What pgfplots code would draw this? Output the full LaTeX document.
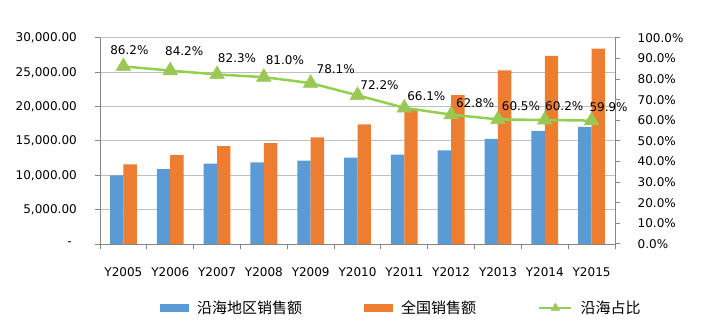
\documentclass[border=0pt]{standalone}
\usepackage{pgfplots}
\usepackage{pgfplotstable}
\pgfplotsset{compat=1.18}
\usepackage{fontspec}
\setmainfont{DejaVu Sans}
\newfontfamily\cjk{Noto Sans CJK SC}
\definecolor{cblue}{RGB}{91,155,213}
\definecolor{corange}{RGB}{237,125,49}
\definecolor{cline}{RGB}{146,208,80}
\definecolor{cmark}{RGB}{155,200,85}
\definecolor{caxis}{RGB}{134,134,134}
\definecolor{cgrid}{RGB}{191,191,191}

\pgfplotstableread{
x coast nation
0 10000 11600
1 10900 12940
2 11720 14240
3 11900 14700
4 12130 15530
5 12570 17410
6 13020 19700
7 13620 21690
8 15310 25300
9 16480 27380
10 17050 28460
}\sales

\pgfplotstableread{
x share dx dy
0 86.2 6 16
1 84.2 14 19
2 82.3 20 16
3 81.0 21 17
4 78.1 25 14
5 72.2 22 10
6 66.1 22 12
7 62.8 24 11
8 60.5 23 13
9 60.2 19.5 14
10 59.9 17 13
}\share

\begin{document}
\begin{tikzpicture}
\path[use as bounding box] (0,0) rectangle (709bp,336bp);
\begin{axis}[
  at={(100bp,92bp)}, anchor=south west,
  scale only axis, width=515bp, height=206bp,
  xmin=-0.5, xmax=10.5, ymin=0, ymax=30000,
  scaled y ticks=false,
  axis x line*=bottom, axis y line*=left,
  axis line style={caxis, line width=1bp},
  ybar=0pt, bar width=13.4bp,
  xtick={0,...,10},
  xticklabels={Y2005,Y2006,Y2007,Y2008,Y2009,Y2010,Y2011,Y2012,Y2013,Y2014,Y2015},
  minor xtick={-0.5,0.5,...,10.5},
  major x tick style={draw=none},
  minor x tick style={caxis, line width=1bp},
  y tick style={caxis, line width=1bp},
  tick align=outside,
  major tick length=5bp, minor tick length=5bp,
  ytick={0,5000,...,30000},
  yticklabels={{-\hspace*{5bp}},{5,000.00},{10,000.00},{15,000.00},{20,000.00},{25,000.00},{30,000.00}},
  ymajorgrids, grid style={cgrid, line width=1bp},
  tick label style={font=\fontsize{12bp}{14bp}\selectfont, text=black},
  xticklabel style={anchor=north, inner sep=0pt, yshift=-18bp},
  yticklabel style={anchor=east, inner sep=0pt, xshift=-18bp},
  legend columns=3,
  legend style={at={(0.1165,-0.3107)}, anchor=west, draw=none, inner sep=0pt,
    font=\cjk\fontsize{15bp}{17bp}\selectfont,
    /tikz/every odd column/.append style={column sep=6bp},
    /tikz/every even column/.append style={column sep=60bp}},
  legend cell align=left,
]
\addplot[fill=cblue, draw=none,
  legend image code/.code={\fill[cblue] (0bp,-3.8bp) rectangle (29bp,3.8bp);}]
  table[x=x, y=coast]{\sales};
\addlegendentry{沿海地区销售额}
\addplot[fill=corange, draw=none,
  legend image code/.code={\fill[corange] (0bp,-3.8bp) rectangle (29bp,3.8bp);}]
  table[x=x, y=nation]{\sales};
\addlegendentry{全国销售额}
\addlegendimage{legend image code/.code={
  \draw[cline, line width=2.5bp] (0bp,0bp) -- (32bp,0bp);
  \path[fill=cmark, draw=cmark] plot[mark=triangle*, mark size=5bp] coordinates {(16bp,0bp)};}}
\addlegendentry{沿海占比}
\end{axis}
\begin{axis}[
  at={(100bp,92bp)}, anchor=south west,
  scale only axis, width=515bp, height=206bp,
  xmin=-0.5, xmax=10.5, ymin=0, ymax=100,
  axis x line=none, axis y line*=right,
  axis line style={caxis, line width=1bp},
  y tick style={caxis, line width=1bp},
  tick align=outside, major tick length=5bp,
  ytick={0,10,...,100},
  yticklabels={0.0\%,10.0\%,20.0\%,30.0\%,40.0\%,50.0\%,60.0\%,70.0\%,80.0\%,90.0\%,100.0\%},
  tick label style={font=\fontsize{12bp}{14bp}\selectfont, text=black},
  yticklabel style={anchor=west, inner sep=0pt, xshift=17.5bp},
  clip=false,
]
\addplot[cline, line width=2.5bp, mark=triangle*, mark size=8.5bp,
  mark options={fill=cmark, draw=cmark, line width=0.5bp},
  point meta=y,
  nodes near coords={\pgfmathprintnumber[fixed,fixed zerofill,precision=1,assume math mode=true]{\pgfplotspointmeta}\%},
  visualization depends on={\thisrow{dx} \as \dx},
  visualization depends on={\thisrow{dy} \as \dy},
  every node near coord/.append style={anchor=center, xshift=\dx bp, yshift=\dy bp,
    font=\fontsize{12bp}{14bp}\selectfont, text=black, inner sep=0pt}]
  table[x=x, y=share]{\share};
\end{axis}
\end{tikzpicture}
\end{document}
